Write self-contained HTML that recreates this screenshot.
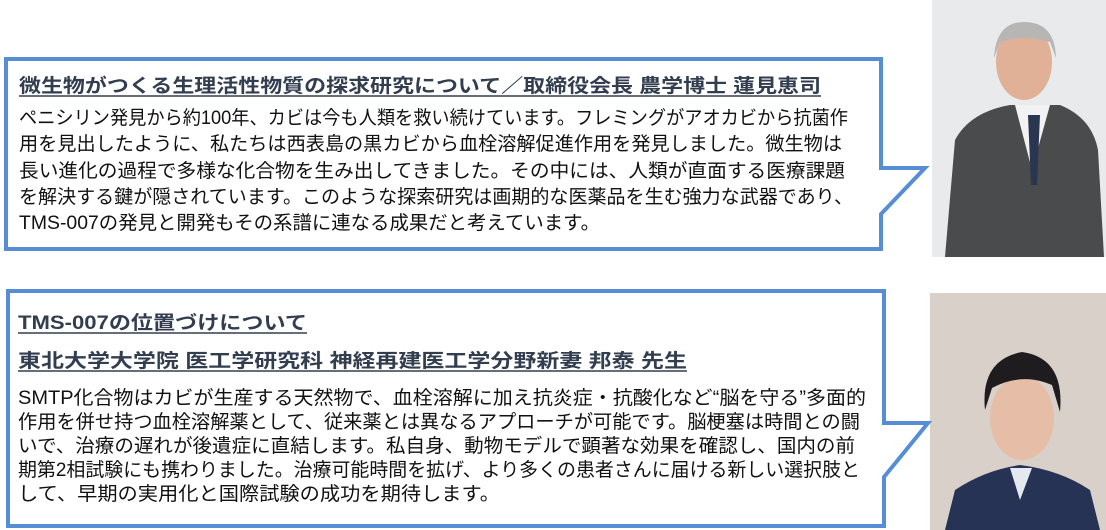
<!DOCTYPE html>
<html><head><meta charset="utf-8"><style>
html,body{margin:0;padding:0;background:#fff;}
svg{display:block}
text{font-family:"Liberation Sans","Noto Sans CJK JP",sans-serif;}
.t{font-weight:bold;fill:#323e4f;font-size:19px}
.b{fill:#111;font-size:19px}
</style></head><body>
<svg width="1106" height="530" viewBox="0 0 1106 530" xmlns="http://www.w3.org/2000/svg">
<!-- photos -->
<rect x="932" y="0" width="174" height="257" fill="#e9eaec"/>
<g>
 <path d="M945 257 L955 140 Q970 112 1010 105 L1060 105 Q1092 118 1098 150 L1104 257 Z" fill="#4a4b4d"/>
 <path d="M1015 105 L1032 170 L1050 105 Z" fill="#f2f2f2"/>
 <path d="M1028 115 L1040 115 L1037 185 L1031 185 Z" fill="#2a3550"/>
 <ellipse cx="1024" cy="62" rx="28" ry="38" fill="#e0b097"/>
 <path d="M994 58 Q996 22 1024 22 Q1055 22 1056 58 L1050 42 Q1024 34 1000 42 Z" fill="#b8b6b4"/>
</g>
<rect x="930" y="293" width="176" height="237" fill="#d9d1c9"/>
<g>
 <path d="M945 530 L955 490 Q985 470 1020 465 Q1060 470 1090 490 L1100 530 Z" fill="#263354"/>
 <path d="M1010 468 L1020 500 L1032 468 Z" fill="#e4e8ef"/>
 <ellipse cx="1022" cy="418" rx="32" ry="42" fill="#e6bda6"/>
 <path d="M985 410 Q980 360 1022 352 Q1065 358 1060 412 L1052 385 Q1022 372 992 388 Z" fill="#1e1c1e"/>
</g>
<!-- callouts -->
<path d="M6 59 H881 V168 L925 168 L881 214 V249 H6 Z" fill="#fff" stroke="#558ed5" stroke-width="4" stroke-linejoin="miter"/>
<path d="M8 291 H884 V423 L928 423 L884 477 V526 H8 Z" fill="#fff" stroke="#558ed5" stroke-width="4" stroke-linejoin="miter"/>
<!-- top texts -->
<text class="t" x="19" y="92" textLength="802" lengthAdjust="spacingAndGlyphs">微生物がつくる生理活性物質の探求研究について／取締役会長 農学博士 蓮見恵司</text>
<line x1="19" y1="96" x2="821" y2="96" stroke="#323e4f" stroke-width="1.5"/>
<text class="b" x="19" y="124" textLength="829" lengthAdjust="spacingAndGlyphs">ペニシリン発見から約100年、カビは今も人類を救い続けています。フレミングがアオカビから抗菌作</text>
<text class="b" x="19" y="150" textLength="823" lengthAdjust="spacingAndGlyphs">用を見出したように、私たちは西表島の黒カビから血栓溶解促進作用を発見しました。微生物は</text>
<text class="b" x="19" y="177" textLength="826" lengthAdjust="spacingAndGlyphs">長い進化の過程で多様な化合物を生み出してきました。その中には、人類が直面する医療課題</text>
<text class="b" x="19" y="203" textLength="834" lengthAdjust="spacingAndGlyphs">を解決する鍵が隠されています。このような探索研究は画期的な医薬品を生む強力な武器であり、</text>
<text class="b" x="19" y="229" textLength="581" lengthAdjust="spacingAndGlyphs">TMS-007の発見と開発もその系譜に連なる成果だと考えています。</text>
<!-- bottom texts -->
<text class="t" x="18" y="329" textLength="289" lengthAdjust="spacingAndGlyphs">TMS-007の位置づけについて</text>
<line x1="18" y1="333" x2="307" y2="333" stroke="#323e4f" stroke-width="1.5"/>
<text class="t" x="18" y="367" textLength="669" lengthAdjust="spacingAndGlyphs">東北大学大学院 医工学研究科 神経再建医工学分野新妻 邦泰 先生</text>
<line x1="18" y1="371" x2="687" y2="371" stroke="#323e4f" stroke-width="1.5"/>
<text class="b" x="18" y="404" textLength="848" lengthAdjust="spacingAndGlyphs">SMTP化合物はカビが生産する天然物で、血栓溶解に加え抗炎症・抗酸化など“脳を守る”多面的</text>
<text class="b" x="18" y="428" textLength="842" lengthAdjust="spacingAndGlyphs">作用を併せ持つ血栓溶解薬として、従来薬とは異なるアプローチが可能です。脳梗塞は時間との闘</text>
<text class="b" x="18" y="452" textLength="837" lengthAdjust="spacingAndGlyphs">いで、治療の遅れが後遺症に直結します。私自身、動物モデルで顕著な効果を確認し、国内の前</text>
<text class="b" x="18" y="476" textLength="842" lengthAdjust="spacingAndGlyphs">期第2相試験にも携わりました。治療可能時間を拡げ、より多くの患者さんに届ける新しい選択肢と</text>
<text class="b" x="18" y="500" textLength="482" lengthAdjust="spacingAndGlyphs">して、早期の実用化と国際試験の成功を期待します。</text>
</svg>
</body></html>
